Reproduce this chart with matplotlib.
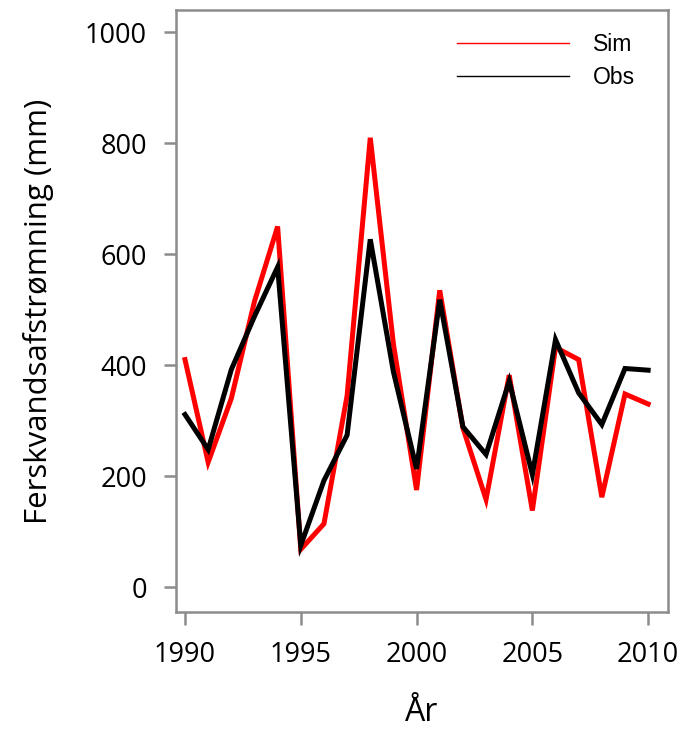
# coding: utf-8
import matplotlib
matplotlib.use("Agg")
import matplotlib.pyplot as plt


# data
years = list(range(1990, 2011))
sim = [410, 225, 340, 515, 650, 68, 114, 345, 810, 438, 175,
       535, 287, 158, 382, 138, 432, 410, 162, 348, 330]
obs = [311, 248, 392, 488, 577, 75, 192, 274, 627, 388, 213,
       518, 289, 239, 371, 203, 446, 350, 293, 394, 391]
xticks = [1990, 1995, 2000, 2005, 2010]
yticks = [0, 200, 400, 600, 800, 1000]


def main():
    plt.rcParams['font.family'] = ['Open Sans', 'DejaVu Sans']

    fig = plt.figure(figsize=(6.81, 7.29), dpi=100)
    ax = fig.add_axes([0.2584, 0.1605, 0.7226, 0.8255])

    ax.plot(years, sim, color="#ff0000", lw=3.6, label="Sim",
            solid_joinstyle="miter")
    ax.plot(years, obs, color="black", lw=3.6, label="Obs",
            solid_joinstyle="miter")

    ax.set_xlim(1989.61, 2010.86)
    ax.set_ylim(-45, 1040)
    ax.set_xticks(xticks)
    ax.set_yticks(yticks)

    for s in ax.spines.values():
        s.set_color("#8c8c8c")
        s.set_linewidth(1.8)
    ax.tick_params(colors="#8c8c8c", labelcolor="black", width=1.8,
                   length=9, labelsize=19.5, pad=12)

    ax.set_xlabel("År", fontsize=23, labelpad=19)
    ax.set_ylabel("Ferskvandsafstrømning (mm)", fontsize=22.5, labelpad=22)

    leg = ax.legend(loc="upper left", frameon=False, handlelength=4.85,
                    labelspacing=0.45, handletextpad=1.05, borderpad=0,
                    borderaxespad=0,
                    bbox_to_anchor=(0.572, 0.962),
                    prop={"family": "Liberation Sans", "size": 16.5})
    for h in leg.legend_handles:
        h.set_linewidth(1.0)

    fig.savefig("out.png", dpi=100)
    plt.close(fig)


if __name__ == '__main__':
    main()
